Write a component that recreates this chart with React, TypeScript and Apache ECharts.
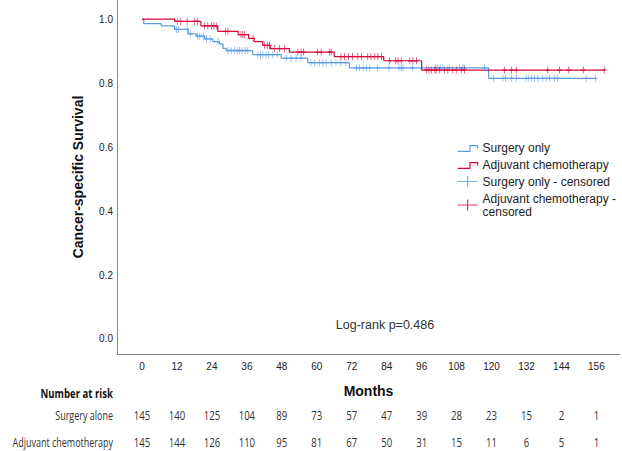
import React, { useEffect, useRef } from "react";
import * as echarts from "echarts";

const months = [0, 12, 24, 36, 48, 60, 72, 84, 96, 108, 120, 132, 144, 156];
const yTicks = [0, 0.2, 0.4, 0.6, 0.8, 1.0];
const surgeryAtRisk = [145, 140, 125, 104, 89, 73, 57, 47, 39, 28, 23, 15, 2, 1];
const chemoAtRisk = [145, 144, 126, 110, 95, 81, 67, 50, 31, 15, 11, 6, 5, 1];

// Kaplan-Meier step curves (time in months, survival)
const surgeryTimes = [0, 0.6, 6.6, 11.2, 15.8, 18.6, 21.5, 24.3, 26.6, 27.8, 28.9, 38, 47.8, 56.9, 71.2, 119, 155.7];
const surgerySurv = [1.0, 0.986, 0.979, 0.968, 0.954, 0.947, 0.938, 0.93, 0.923, 0.909, 0.902, 0.889, 0.878, 0.864, 0.848, 0.815, 0.815];
const chemoTimes = [0, 11.2, 20.2, 26, 33, 36.6, 38.5, 41.5, 44, 50.6, 66, 83, 96, 158.7];
const chemoSurv = [1.0, 0.993, 0.979, 0.962, 0.952, 0.94, 0.93, 0.918, 0.908, 0.897, 0.883, 0.87, 0.841, 0.841];

const surgeryCensored = [11.8, 12.6, 15.5, 16.7, 19.0, 19.8, 21.0, 22.1, 23.6, 26.1, 29.5, 30.6, 31.8, 32.7, 33.5, 34.3, 35.4, 36.3, 39.8, 40.7, 41.5, 42.6, 43.5, 44.9, 46.4, 49.5, 51.2, 52.9, 54.6, 58.0, 59.2, 60.9, 62.1, 63.2, 64.9, 66.6, 68.3, 70.0, 73.6, 74.7, 75.9, 77.0, 78.2, 80.8, 84.8, 88.2, 89.0, 89.6, 92.8, 100.8, 101.6, 102.4, 103.3, 105.6, 109.0, 110.2, 110.7, 117.6, 120.7, 123.9, 124.8, 126.8, 128.5, 131.9, 132.8, 133.8, 134.7, 135.9, 137.6, 138.7, 139.9, 141.6, 142.7, 152.5, 155.7];
const chemoCensored = [12.1, 13.3, 15.5, 18.1, 19.0, 21.5, 22.6, 23.8, 24.7, 25.5, 28.6, 29.5, 34.0, 34.6, 35.2, 38.1, 42.1, 43.0, 43.8, 45.5, 47.2, 48.9, 53.5, 54.6, 55.5, 60.3, 61.5, 64.3, 64.9, 68.3, 69.5, 70.9, 72.3, 74.1, 75.4, 77.5, 78.6, 79.9, 81.0, 82.2, 85.0, 87.1, 87.9, 89.0, 91.9, 93.0, 94.2, 97.6, 98.5, 99.3, 100.5, 101.0, 102.2, 103.9, 105.0, 106.7, 107.9, 109.6, 110.7, 124.5, 126.8, 128.5, 139.3, 143.3, 146.5, 151.5, 158.7];

const BLUE = "#5b9de3";
const RED = "#d5093c";
const AXIS = "#8a8a8a";
const FONT = "'Liberation Sans', Arial, sans-serif";
const TABLE_FONT = "'Open Sans', 'Liberation Sans', sans-serif";

function survivalAt(times: number[], surv: number[], t: number) {
  let s = surv[0];
  for (let i = 0; i < times.length; i++) if (times[i] <= t) s = surv[i];
  return s;
}

const STEP_ICON = "path://M0,0 M0,10 L13,10 L13,4 L21,4 L21,7 M21,12";
const PLUS_ICON = "path://M0,6 L22,6 M11,0 L11,12";
const CENSOR_SYMBOL = "path://M0,5 L6,5 M3,0 L3,10";

export default function App() {
  const ref = useRef<HTMLDivElement>(null);
  useEffect(() => {
    if (!ref.current) return;
    const chart = echarts.init(ref.current, undefined, { renderer: "svg" });
    const xMin = -8.59;
    const xMax = 164.1;
    const rowLabel = (id: string, text: string, y: number, bold: boolean) => ({
      id,
      type: "text",
      x: 113,
      y,
      scaleX: bold ? 0.8 : 0.75,
      style: {
        text,
        fontSize: 12,
        fontWeight: bold ? "bold" : "normal",
        fontFamily: TABLE_FONT,
        fill: bold ? "#111" : "#333",
        align: "right",
        verticalAlign: "middle",
      },
    });
    chart.setOption({
      animation: false,
      backgroundColor: "#fff",
      grid: { left: 117, right: 2, top: 0, bottom: 97, containLabel: false },
      xAxis: {
        type: "value",
        min: xMin,
        max: xMax,
        name: "Months",
        nameLocation: "middle",
        nameGap: 30,
        nameTextStyle: { fontSize: 14, fontWeight: "bold", fontFamily: FONT, color: "#111" },
        axisLine: { onZero: false, lineStyle: { color: AXIS, width: 1 } },
        axisTick: { show: false },
        splitLine: { show: false },
        axisLabel: {
          customValues: months,
          margin: 7,
          fontSize: 10,
          fontFamily: FONT,
          color: "#222",
        },
      },
      yAxis: {
        type: "value",
        min: -0.047,
        max: 1.06,
        name: "Cancer-specific Survival",
        nameLocation: "middle",
        nameGap: 32,
        nameTextStyle: { fontSize: 14, fontWeight: "bold", fontFamily: FONT, color: "#111" },
        axisLine: { onZero: false, lineStyle: { color: AXIS, width: 1 } },
        axisTick: { show: false },
        splitLine: { show: false },
        axisLabel: {
          customValues: yTicks,
          margin: 4,
          fontSize: 10,
          fontFamily: FONT,
          color: "#222",
          formatter: (v: number) => v.toFixed(1),
        },
      },
      legend: {
        orient: "vertical",
        left: 457,
        top: 141,
        padding: 0,
        itemWidth: 20,
        itemHeight: 12,
        itemGap: 4,
        selectedMode: false,
        textStyle: { fontSize: 12, fontFamily: FONT, color: "#222", lineHeight: 13 },
        data: [
          { name: "Surgery only", icon: STEP_ICON, itemStyle: { color: "rgba(0,0,0,0)", borderColor: BLUE, borderWidth: 1.2 } },
          { name: "Adjuvant chemotherapy", icon: STEP_ICON, itemStyle: { color: "rgba(0,0,0,0)", borderColor: RED, borderWidth: 1.2 } },
          { name: "Surgery only - censored", icon: PLUS_ICON, itemStyle: { color: "rgba(0,0,0,0)", borderColor: BLUE, borderWidth: 1.2 } },
          { name: "Adjuvant chemotherapy -\ncensored", icon: PLUS_ICON, itemStyle: { color: "rgba(0,0,0,0)", borderColor: RED, borderWidth: 1.2 } },
        ],
      },
      graphic: [
        {
          id: "logrank",
          type: "text",
          x: 385,
          y: 325,
          style: { text: "Log-rank p=0.486", fontSize: 12.5, fontFamily: FONT, fill: "#333", align: "center", verticalAlign: "middle" },
        },
        rowLabel("lbl0", "Number at risk", 393, true),
        rowLabel("lbl1", "Surgery alone", 415, false),
        rowLabel("lbl2", "Adjuvant chemotherapy", 442, false),
      ],
      series: [
        {
          name: "Surgery only",
          type: "line",
          step: "end",
          symbol: "none",
          lineStyle: { color: BLUE, width: 1.2 },
          itemStyle: { color: BLUE },
          data: surgeryTimes.map((t, i) => [t, surgerySurv[i]]),
          z: 2,
        },
        {
          name: "Adjuvant chemotherapy",
          type: "line",
          step: "end",
          symbol: "none",
          lineStyle: { color: RED, width: 1.2 },
          itemStyle: { color: RED },
          data: chemoTimes.map((t, i) => [t, chemoSurv[i]]),
          z: 3,
        },
        {
          name: "Surgery only - censored",
          type: "scatter",
          symbol: CENSOR_SYMBOL,
          symbolSize: [4, 7],
          itemStyle: { color: "rgba(0,0,0,0)", borderColor: BLUE, borderWidth: 1 },
          data: surgeryCensored.map((t) => [t, survivalAt(surgeryTimes, surgerySurv, t)]),
          z: 4,
        },
        {
          name: "Adjuvant chemotherapy -\ncensored",
          type: "scatter",
          symbol: CENSOR_SYMBOL,
          symbolSize: [4, 7],
          itemStyle: { color: "rgba(0,0,0,0)", borderColor: RED, borderWidth: 1 },
          data: chemoCensored.map((t) => [t, survivalAt(chemoTimes, chemoSurv, t)]),
          z: 5,
        },
      ],
    });

    // Number-at-risk table, positioned with the x axis scale
    const riskTexts: any[] = [];
    const rows: [number[], number][] = [
      [surgeryAtRisk, 415],
      [chemoAtRisk, 442],
    ];
    rows.forEach(([vals, y], r) => {
      months.forEach((m, i) => {
        const px = chart.convertToPixel({ xAxisIndex: 0 }, m) as number;
        riskTexts.push({
          id: `risk${r}_${i}`,
          type: "text",
          x: px,
          y,
          scaleX: 0.8,
          style: {
            text: String(vals[i]),
            fontSize: 12,
            fontFamily: TABLE_FONT,
            fill: "#333",
            align: "center",
            verticalAlign: "middle",
          },
        });
      });
    });
    chart.setOption({ graphic: riskTexts });
    return () => chart.dispose();
  }, []);
  return (
    <div
      ref={ref}
      style={{ position: "fixed", left: 0, top: 0, width: 622, height: 451, background: "#fff" }}
    />
  );
}
